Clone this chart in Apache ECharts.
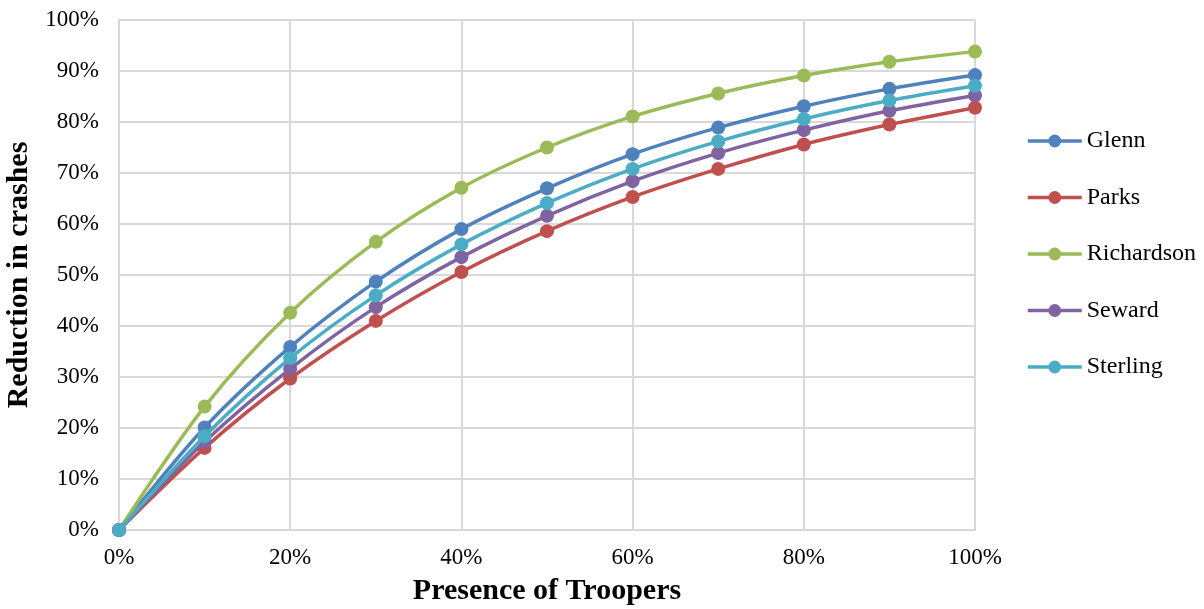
<!DOCTYPE html>
<html>
<head>
<meta charset="utf-8">
<script src="https://cdn.jsdelivr.net/npm/echarts@6/dist/echarts.min.js"></script>
<style>
  html, body { margin: 0; padding: 0; background: #fff; }
  #chart { width: 1204px; height: 609px; }
</style>
</head>
<body>
<div id="chart"></div>
<script>
// Presence of troopers (%) along the x axis
const presence = [0, 10, 20, 30, 40, 50, 60, 70, 80, 90, 100];

// Reduction in crashes (%) per borough
const glenn      = [0, 20.1, 35.9, 48.7, 59.0, 67.0, 73.7, 78.9, 83.1, 86.5, 89.2];
const parks      = [0, 16.1, 29.7, 41.0, 50.6, 58.6, 65.3, 70.8, 75.6, 79.5, 82.8];
const richardson = [0, 24.2, 42.6, 56.5, 67.1, 75.0, 81.1, 85.6, 89.1, 91.8, 93.8];
const seward     = [0, 17.3, 31.6, 43.7, 53.5, 61.6, 68.4, 73.9, 78.4, 82.2, 85.2];
const sterling   = [0, 18.4, 33.7, 46.0, 56.0, 64.1, 70.8, 76.2, 80.6, 84.2, 87.1];

const seriesNames  = ['Glenn', 'Parks', 'Richardson', 'Seward', 'Sterling'];
const seriesValues = [glenn, parks, richardson, seward, sterling];
const seriesColors = ['#4F81BD', '#C0504D', '#9BBB59', '#8064A2', '#4BACC6'];

const font = '"Liberation Serif", "Times New Roman", serif';

const chart = echarts.init(document.getElementById('chart'), null, { renderer: 'canvas' });

chart.setOption({
  animation: false,
  backgroundColor: '#ffffff',
  textStyle: { fontFamily: font },
  grid: {
    left: 119, right: 229, top: 20, bottom: 79,
    containLabel: false,
    outerBoundsMode: 'none'
  },
  legend: {
    orient: 'vertical',
    left: 1021,
    top: 124,
    itemWidth: 54,
    itemHeight: 16,
    itemGap: 32.5,
    data: seriesNames,
    lineStyle: { width: 3.5 },
    textStyle: { fontFamily: font, fontSize: 24, color: '#000' }
  },
  xAxis: {
    type: 'value',
    min: 0,
    max: 100,
    interval: 20,
    name: 'Presence of Troopers',
    nameLocation: 'middle',
    nameGap: 46,
    nameTextStyle: { fontFamily: font, fontSize: 30, fontWeight: 'bold', color: '#000' },
    axisLine: { show: true, lineStyle: { color: '#D9D9D9', width: 2 } },
    axisTick: { show: false },
    splitLine: { show: true, lineStyle: { color: '#D9D9D9', width: 2 } },
    axisLabel: {
      fontFamily: font, fontSize: 23, color: '#000', margin: 16,
      formatter: v => v + '%'
    }
  },
  yAxis: {
    type: 'value',
    min: 0,
    max: 100,
    interval: 10,
    name: 'Reduction in crashes',
    nameLocation: 'middle',
    nameGap: 82,
    nameRotate: 90,
    nameTextStyle: { fontFamily: font, fontSize: 30, fontWeight: 'bold', color: '#000' },
    axisLine: { show: true, lineStyle: { color: '#D9D9D9', width: 2 } },
    axisTick: { show: false },
    splitLine: { show: true, lineStyle: { color: '#D9D9D9', width: 2 } },
    axisLabel: {
      fontFamily: font, fontSize: 23, color: '#000', margin: 20,
      formatter: v => v + '%'
    }
  },
  series: seriesNames.map((name, i) => ({
    name: name,
    type: 'line',
    smooth: 0.3,
    symbol: 'circle',
    symbolSize: 14,
    data: presence.map((x, j) => [x, seriesValues[i][j]]),
    itemStyle: { color: seriesColors[i] },
    lineStyle: { color: seriesColors[i], width: 3.5 },
    z: 2 + (i === 4 ? 5 : i)
  }))
});
</script>
</body>
</html>
